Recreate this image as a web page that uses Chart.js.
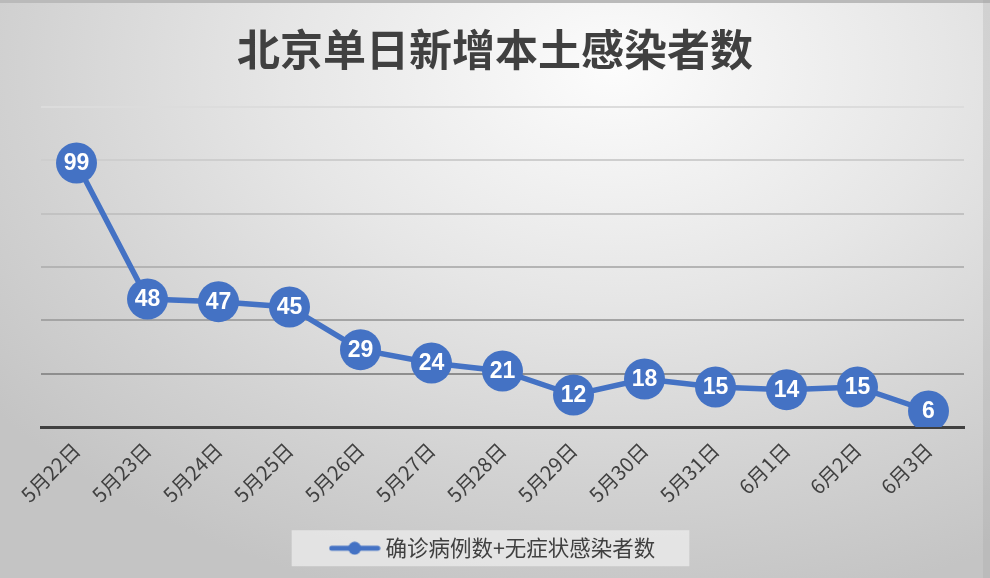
<!DOCTYPE html>
<html>
<head>
<meta charset="utf-8">
<script src="https://cdn.jsdelivr.net/npm/chart.js@4"></script>
<style>
html,body{margin:0;padding:0;overflow:hidden;}
#wrap{position:relative;width:990px;height:578px;box-sizing:border-box;
  background:radial-gradient(ellipse 80% 95% at 62% 12%, #fcfcfc 0%, #e6e6e6 42%, #d2d2d2 75%, #c4c4c4 100%);}
#edgeTop{position:absolute;left:0;top:0;width:990px;height:3px;background:#bababa;}
#edgeRight{position:absolute;right:0;top:0;width:7px;height:578px;background:rgba(160,160,160,0.25);}
canvas{position:absolute;left:0;top:0;}
</style>
</head>
<body>
<div id="wrap">
<div id="edgeTop"></div>
<div id="edgeRight"></div>
<canvas id="c" width="990" height="578"></canvas>
</div>
<script>
const categories = ["5月22日","5月23日","5月24日","5月25日","5月26日","5月27日","5月28日","5月29日","5月30日","5月31日","6月1日","6月2日","6月3日"];
const cases = [99,48,47,45,29,24,21,12,18,15,14,15,6];
const seriesName = "确诊病例数+无症状感染者数";
const chartTitle = "北京单日新增本土感染者数";
const yMax = 120;
const yStep = 20;

const BLUE = "#4472C4";

// legend symbol: line with a dot
const sym = document.createElement("canvas");
sym.width = 52; sym.height = 14;
(function(){
  const g = sym.getContext("2d");
  g.strokeStyle = BLUE; g.lineWidth = 5; g.lineCap = "round";
  g.beginPath(); g.moveTo(3,7); g.lineTo(49,7); g.stroke();
  g.fillStyle = BLUE; g.beginPath(); g.arc(26,7,6.5,0,Math.PI*2); g.fill();
})();

const gridColors = {0:"rgba(0,0,0,0)",20:"#8e8e8e",40:"#a4a4a4",60:"#b4b4b4",80:"#c2c2c2",100:"#cecece",120:"#dcdcdc"};

const legendBg = {
  id: "legendBg",
  beforeDraw(chart){
    const lg = chart.legend;
    if(!lg || !lg.legendHitBoxes || !lg.legendHitBoxes.length) return;
    const hb = lg.legendHitBoxes[0];
    const cy = hb.top + hb.height/2;
    const ctx = chart.ctx;
    ctx.save();
    ctx.fillStyle = "rgba(236,236,236,0.75)";
    const l = hb.left - 43, r = hb.left + hb.width + 34;
    ctx.fillRect(l, cy - 18, r - l, 36);
    ctx.restore();
  }
};

const pointLabels = {
  id: "pointLabels",
  afterDatasetsDraw(chart){
    const ctx = chart.ctx;
    const meta = chart.getDatasetMeta(0);
    ctx.save();
    ctx.fillStyle = "#ffffff";
    ctx.font = "bold 23px 'Liberation Sans', Arial, sans-serif";
    ctx.textAlign = "center";
    ctx.textBaseline = "middle";
    meta.data.forEach((pt, i) => {
      ctx.fillText(String(chart.data.datasets[0].data[i]), pt.x, pt.y + 1);
    });
    ctx.restore();
  }
};

new Chart(document.getElementById("c"), {
  type: "line",
  data: {
    labels: categories,
    datasets: [{
      label: seriesName,
      data: cases,
      borderColor: BLUE,
      backgroundColor: BLUE,
      borderWidth: 5.5,
      pointRadius: 20.5,
      pointHoverRadius: 20.5,
      pointBorderWidth: 0,
      pointBackgroundColor: BLUE,
      tension: 0,
      fill: false
    }]
  },
  options: {
    responsive: false,
    animation: false,
    events: [],
    layout: { padding: { left: 26, right: 26, top: 0, bottom: 9 } },
    scales: {
      x: {
        offset: true,
        grid: { display: false, drawTicks: false },
        border: { display: true, color: "#404040", width: 3 },
        ticks: {
          minRotation: 45, maxRotation: 45, autoSkip: false,
          color: "#404040", padding: 11,
          font: { family: "'Noto Sans CJK SC', sans-serif", size: 20 }
        },
        afterFit(scale){ scale.height = 91; }
      },
      y: {
        min: 0, max: yMax,
        ticks: { display: false, stepSize: yStep },
        border: { display: false },
        grid: {
          drawTicks: false,
          lineWidth: 2,
          color: (ctx) => gridColors[ctx.tick ? ctx.tick.value : 0] || "#bbbbbb"
        },
        afterFit(scale){ scale.width = 15; }
      }
    },
    plugins: {
      title: {
        display: true,
        text: chartTitle,
        color: "#404040",
        font: { family: "'Noto Sans CJK SC', sans-serif", size: 43, weight: "bold", lineHeight: 1.2 },
        padding: { top: 24, bottom: 31.4 }
      },
      legend: {
        display: true,
        position: "bottom",
        labels: {
          usePointStyle: true,
          pointStyle: sym,
          pointStyleWidth: 40,
          padding: 19.5,
          color: "#404040",
          font: { family: "'Noto Sans CJK SC', sans-serif", size: 21.5 }
        }
      },
      tooltip: { enabled: false }
    }
  },
  plugins: [legendBg, pointLabels]
});
</script>
</body>
</html>
